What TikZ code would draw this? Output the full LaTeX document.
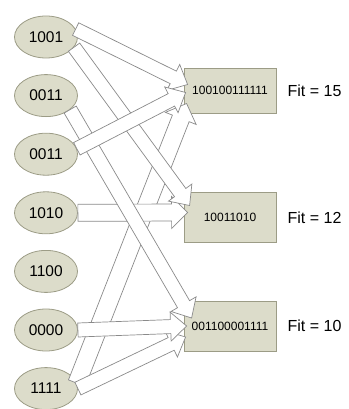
\documentclass[tikz,border=0pt]{standalone}
\usepackage{fontspec}
\setmainfont{Liberation Sans}
\usetikzlibrary{calc,positioning,shapes.geometric}

\definecolor{cellfill}{HTML}{DCDCCA}
\definecolor{celledge}{HTML}{9C9C86}
\definecolor{arrowedge}{HTML}{8A8A8A}

% hollow block arrow: [half shaft width]{from}{to}
\newcommand\blockarrow[3][7pt]{%
  \draw[blockarr]
    ($(#2)!#1!90:(#3)$)
    -- ($(#3)!16pt!(#2)!#1!-90:(#2)$)
    -- ($(#3)!16pt!(#2)!#1+7.5pt!-90:(#2)$)
    -- (#3)
    -- ($(#3)!16pt!(#2)!#1+7.5pt!90:(#2)$)
    -- ($(#3)!16pt!(#2)!#1!90:(#2)$)
    -- ($(#2)!#1!-90:(#3)$)
    -- cycle;}

\begin{document}
\begin{tikzpicture}[
  x=1pt,y=-1pt,
  node distance=15.8pt,
  parent/.style={ellipse,draw=celledge,fill=cellfill,line width=0.8pt,
    minimum width=63pt,minimum height=42pt,inner sep=0pt,
    font=\fontsize{15.5}{18}\selectfont},
  child/.style={draw=celledge,fill=cellfill,line width=0.8pt,
    minimum width=92pt,minimum height=50pt,inner sep=2pt,
    font=\fontsize{12}{14}\selectfont},
  fitlabel/.style={inner sep=0pt,font=\fontsize{16}{18}\selectfont},
  blockarr/.style={draw=arrowedge,fill=white,line width=0.7pt,line join=miter}
]
\useasboundingbox (0,0) rectangle (348,409);

\node[parent] (e1) at (46,37) {1001};
\node[parent,below=of e1] (e2) {0011};
\node[parent,below=of e2] (e3) {0011};
\node[parent,below=of e3] (e4) {1010};
\node[parent,below=of e4] (e5) {1100};
\node[parent,below=of e5] (e6) {0000};
\node[parent,below=of e6] (e7) {1111};

\node[child,minimum height=45pt] (b1) at (230,90.5) {100100111111};
\node[child] (b2) at (230,217.5) {10011010};
\node[child] (b3) at (230,326) {001100001111};

\node[fitlabel,right=11pt of b1] (f1) {Fit = 15};
\node[fitlabel,right=11pt of b2] (f2) {Fit = 12};
\node[fitlabel,right=11pt of b3] (f3) {Fit = 10};

\blockarrow[9pt]{e7.10}{[xshift=3pt,yshift=-13pt]b1.west}
\blockarrow{e7.0}{[xshift=2pt,yshift=-11pt]b3.west}
\blockarrow{e6.east}{[xshift=3pt]b3.west}
\blockarrow[8.5pt]{e4.0}{[xshift=4pt,yshift=5pt]b2.west}
\blockarrow{e1.15}{[xshift=4pt,yshift=6pt]b1.west}
\blockarrow{e2.-30}{[xshift=8pt,yshift=8pt]b3.west}
\blockarrow{e1.-20}{[xshift=6pt,yshift=12pt]b2.west}
\blockarrow{e3.10}{[xshift=2pt,yshift=-2pt]b1.west}
\end{tikzpicture}
\end{document}
